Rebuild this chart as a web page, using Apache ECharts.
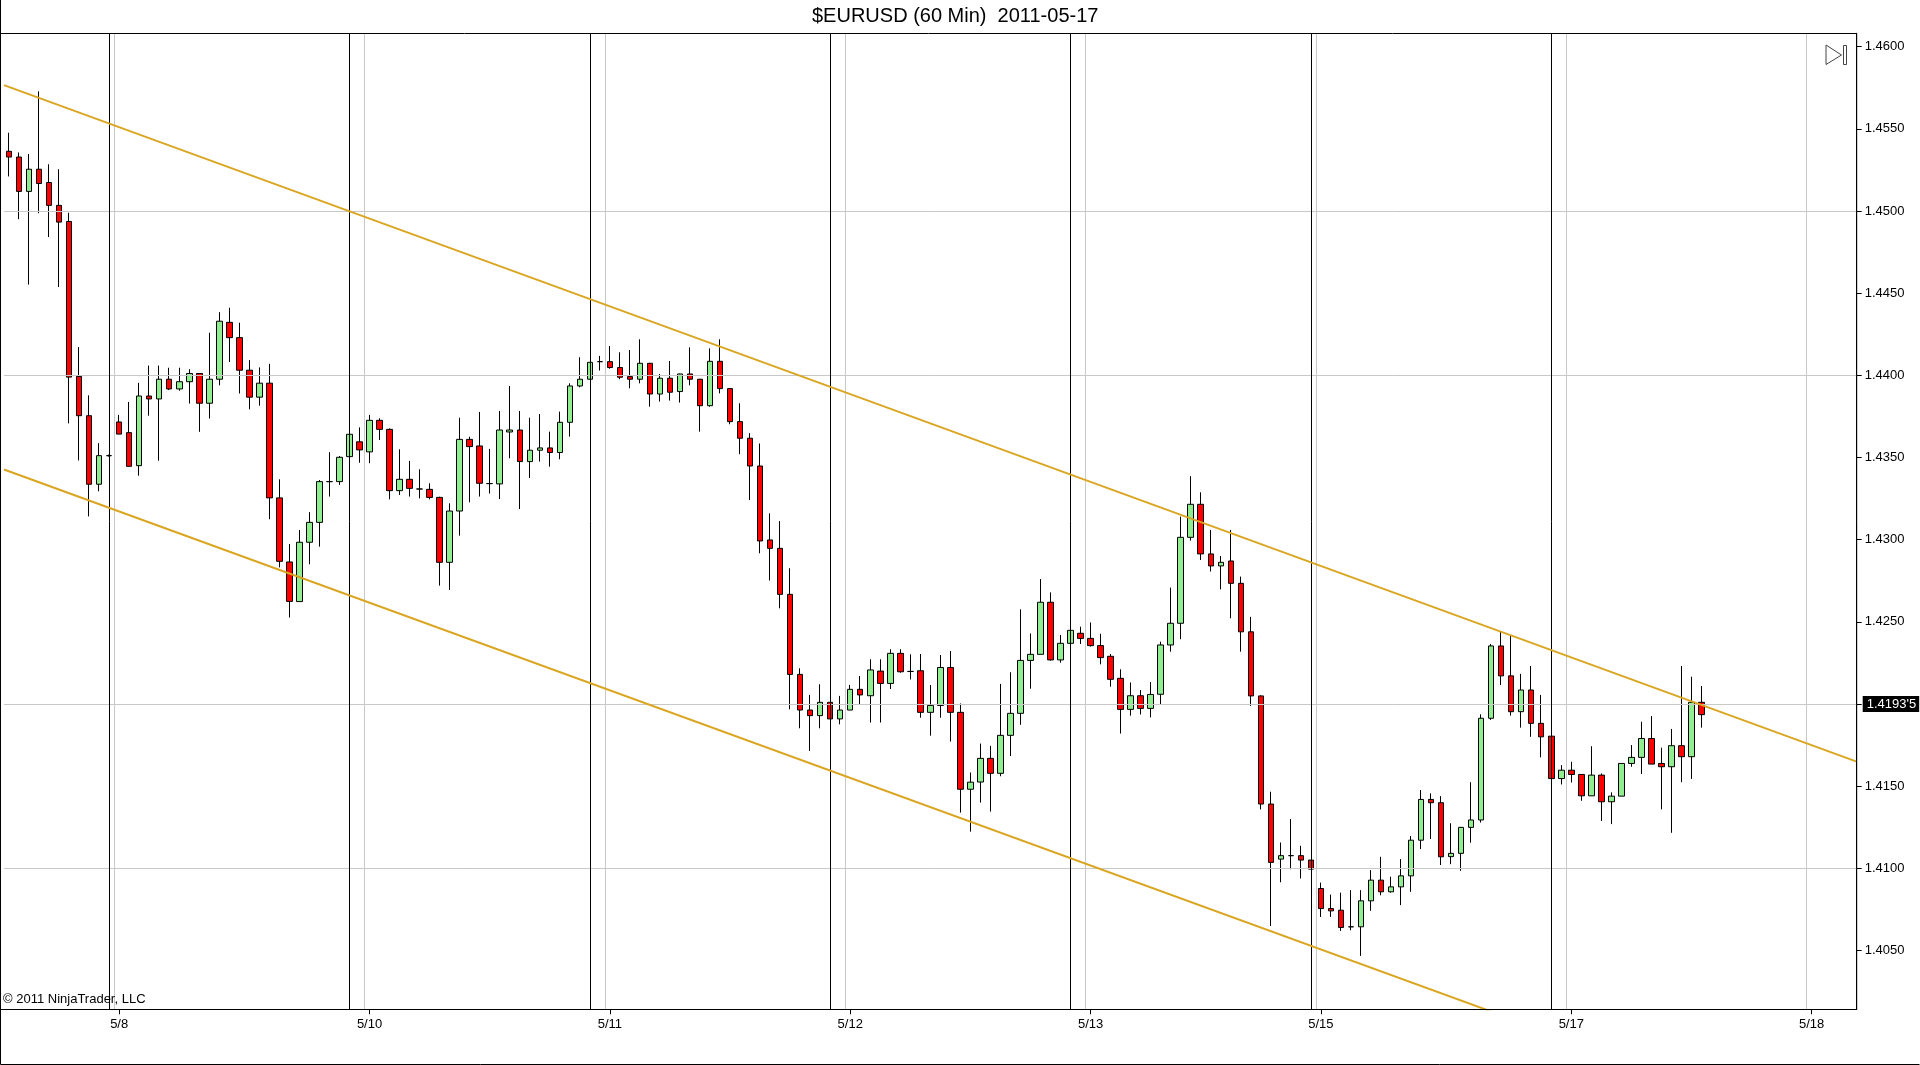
<!DOCTYPE html>
<html><head><meta charset="utf-8">
<script src="https://cdn.jsdelivr.net/npm/echarts@6/dist/echarts.min.js"></script>
<style>html,body{margin:0;padding:0;background:#fff}#c{width:1920px;height:1065px}</style>
</head><body><div id="c"></div>
<script>
// ---- data (hourly bars, $EURUSD 60 Min) ----
const opens = [
1.45363,1.45328,1.45119,1.45254,1.45173,1.45034,1.44936,1.43993,1.43754,1.43337,
1.43511,1.43716,1.43651,1.43450,1.43874,1.43856,1.43976,1.43917,1.43961,1.44011,
1.43830,1.43976,1.44322,1.44229,1.44031,1.43867,1.43952,1.43254,1.42864,1.42623,
1.42984,1.43105,1.43353,1.43353,1.43505,1.43595,1.43534,1.43726,1.43671,1.43298,
1.43367,1.43308,1.43306,1.43257,1.42862,1.43174,1.43610,1.43570,1.43341,1.43339,
1.43655,1.43667,1.43475,1.43544,1.43558,1.43530,1.43714,1.43935,1.43976,1.44083,
1.44083,1.44047,1.43992,1.43976,1.44073,1.43886,1.43982,1.43901,1.44008,1.43976,
1.43815,1.44085,1.43919,1.43718,1.43617,1.43448,1.42998,1.42947,1.42667,1.42180,
1.41963,1.41929,1.42010,1.41909,1.41963,1.42089,1.42050,1.42200,1.42125,1.42308,
1.42198,1.42202,1.41949,1.41991,1.42222,1.41949,1.41481,1.41525,1.41669,1.41578,
1.41809,1.41943,1.42265,1.42302,1.42619,1.42268,1.42369,1.42430,1.42399,1.42355,
1.42290,1.42156,1.41967,1.42050,1.41973,1.42059,1.42359,1.42491,1.43014,1.43215,
1.42913,1.42840,1.42870,1.42734,1.42439,1.42049,1.41391,1.41056,1.41077,1.41077,
1.41050,1.40877,1.40755,1.40745,1.40644,1.40644,1.40802,1.40928,1.40857,1.40887,
1.40954,1.41171,1.41419,1.41399,1.41071,1.41091,1.41249,1.41294,1.41913,1.42353,
1.42171,1.41953,1.42085,1.41882,1.41804,1.41546,1.41597,1.41571,1.41441,1.41567,
1.41405,1.41439,1.41638,1.41675,1.41790,1.41638,1.41618,1.41746,1.41679,1.42010];
const closes = [
1.45328,1.45119,1.45254,1.45167,1.45034,1.44932,1.43989,1.43754,1.43337,1.43511,
1.43511,1.43642,1.43446,1.43874,1.43856,1.43976,1.43917,1.43961,1.44011,1.43830,
1.43976,1.44329,1.44229,1.44031,1.43867,1.43952,1.43254,1.42868,1.42624,1.42984,
1.43105,1.43353,1.43353,1.43501,1.43641,1.43546,1.43726,1.43671,1.43298,1.43367,
1.43312,1.43308,1.43257,1.42862,1.43174,1.43610,1.43566,1.43343,1.43341,1.43667,
1.43667,1.43475,1.43544,1.43558,1.43530,1.43714,1.43935,1.43976,1.44079,1.44083,
1.44047,1.43988,1.43976,1.44073,1.43886,1.43982,1.43897,1.44008,1.43976,1.43815,
1.44085,1.43919,1.43718,1.43617,1.43448,1.42992,1.42947,1.42667,1.42180,1.41963,
1.41929,1.42010,1.41909,1.41963,1.42089,1.42055,1.42207,1.42125,1.42308,1.42196,
1.42198,1.41949,1.41991,1.42222,1.41949,1.41481,1.41524,1.41669,1.41578,1.41809,
1.41943,1.42265,1.42302,1.42619,1.42268,1.42369,1.42448,1.42399,1.42355,1.42282,
1.42150,1.41967,1.42050,1.41973,1.42058,1.42359,1.42491,1.43014,1.43215,1.42913,
1.42840,1.42862,1.42734,1.42439,1.42049,1.41391,1.41036,1.41077,1.41077,1.41050,
1.40995,1.40755,1.40741,1.40640,1.40644,1.40802,1.40928,1.40857,1.40887,1.40954,
1.41171,1.41419,1.41399,1.41070,1.41091,1.41249,1.41294,1.41913,1.42353,1.42171,
1.41953,1.42085,1.41882,1.41800,1.41546,1.41597,1.41571,1.41441,1.41567,1.41405,
1.41439,1.41638,1.41675,1.41790,1.41634,1.41618,1.41746,1.41679,1.42010,1.41935];
const lows = [
1.45210,1.44950,1.44552,1.44986,1.44841,1.44537,1.43707,1.43482,1.43141,1.43294,
1.43505,1.43642,1.43446,1.43389,1.43754,1.43480,1.43910,1.43906,1.43828,1.43656,
1.43737,1.43939,1.44081,1.43889,1.43793,1.43815,1.43124,1.42831,1.42526,1.42623,
1.42850,1.42957,1.43262,1.43333,1.43505,1.43468,1.43465,1.43606,1.43245,1.43272,
1.43262,1.43251,1.43245,1.42720,1.42694,1.43024,1.43227,1.43262,1.43280,1.43247,
1.43495,1.43186,1.43375,1.43475,1.43444,1.43489,1.43627,1.43927,1.43976,1.44029,
1.44040,1.43976,1.43921,1.43951,1.43809,1.43840,1.43846,1.43834,1.43939,1.43657,
1.43809,1.43890,1.43702,1.43520,1.43241,1.42917,1.42751,1.42582,1.41967,1.41852,
1.41714,1.41852,1.41909,1.41876,1.41963,1.41999,1.41887,1.41887,1.42091,1.42190,
1.42149,1.41916,1.41807,1.41916,1.41771,1.41339,1.41223,1.41400,1.41345,1.41560,
1.41683,1.41873,1.42093,1.42302,1.42264,1.42251,1.42369,1.42365,1.42349,1.42241,
1.42105,1.41820,1.41929,1.41936,1.41918,1.41998,1.42318,1.42394,1.42994,1.42876,
1.42806,1.42697,1.42521,1.42318,1.41988,1.41358,1.40649,1.40915,1.40994,1.40938,
1.40995,1.40704,1.40704,1.40619,1.40623,1.40467,1.40741,1.40836,1.40852,1.40776,
1.40857,1.41117,1.41178,1.41020,1.41025,1.40985,1.41156,1.41278,1.41903,1.42115,
1.41929,1.41856,1.41800,1.41675,1.41546,1.41510,1.41522,1.41411,1.41441,1.41288,
1.41269,1.41439,1.41618,1.41574,1.41634,1.41359,1.41216,1.41524,1.41544,1.41856];
const highs = [
1.45476,1.45356,1.45347,1.45728,1.45284,1.45254,1.44989,1.44172,1.43878,1.43587,
1.43517,1.43759,1.43838,1.43954,1.44059,1.44059,1.44046,1.44046,1.44037,1.44011,
1.44259,1.44384,1.44411,1.44320,1.44092,1.44048,1.44070,1.43367,1.42973,1.43059,
1.43167,1.43363,1.43532,1.43509,1.43641,1.43683,1.43759,1.43738,1.43677,1.43550,
1.43479,1.43428,1.43343,1.43261,1.43221,1.43742,1.43626,1.43777,1.43552,1.43783,
1.43935,1.43783,1.43742,1.43764,1.43657,1.43779,1.43951,1.44110,1.44079,1.44118,
1.44178,1.44140,1.44154,1.44219,1.44075,1.44008,1.44087,1.44010,1.44170,1.43978,
1.44164,1.44219,1.43921,1.43830,1.43648,1.43585,1.43160,1.43113,1.42826,1.42217,
1.42055,1.42120,1.42010,1.42049,1.42116,1.42170,1.42272,1.42272,1.42333,1.42333,
1.42302,1.42304,1.42115,1.42298,1.42322,1.42003,1.41583,1.41759,1.41745,1.42122,
1.42193,1.42576,1.42429,1.42760,1.42679,1.42420,1.42448,1.42470,1.42496,1.42427,
1.42304,1.42211,1.42131,1.42085,1.42133,1.42379,1.42708,1.43140,1.43386,1.43288,
1.43059,1.42900,1.43059,1.42775,1.42530,1.42052,1.41466,1.41157,1.41300,1.41137,
1.41050,1.40913,1.40840,1.40852,1.40867,1.40867,1.40989,1.41070,1.40949,1.41056,
1.41196,1.41476,1.41456,1.41439,1.41274,1.41252,1.41524,1.41937,1.42365,1.42440,
1.42414,1.42183,1.42231,1.42055,1.41804,1.41628,1.41648,1.41571,1.41743,1.41577,
1.41462,1.41638,1.41750,1.41892,1.41926,1.41734,1.41848,1.42231,1.42166,1.42109];

const slotCount = 185;                       // hourly slots on the x axis (incl. empty space on the right)
const sessionStarts = [10, 34, 58, 82, 106, 130, 154];
const dateTickIdx  = [11, 36, 60, 84, 108, 131, 156, 180];
const dateTickText = ['5/8','5/10','5/11','5/12','5/13','5/15','5/17','5/18'];
const priceTicks = [1.4050,1.4100,1.4150,1.4200,1.4250,1.4300,1.4350,1.4400,1.4450,1.4500,1.4550,1.4600];
const priceGrid  = [1.4050,1.4200,1.4350,1.4500];
const upperChannel = [1.45766, 1.41649];     // price at left / right plot edge
const lowerChannel = [1.43427, 1.39318];
const yMin = 1.40142, yMax = 1.46081;

// ---- build ----
const FONT = 'Liberation Sans, Arial, sans-serif';
const slots = Array.from({length: slotCount}, (_, i) => 'h' + i);
const candles = opens.map((o, i) => [o, closes[i], lows[i], highs[i]]);
const tickSet = new Set(dateTickIdx);
const tickFn = (i) => tickSet.has(i);
const lastClose = closes[closes.length - 1];
const fmtLast = (v) => { const s = v.toFixed(5); return s.slice(0, 6) + "'" + s.slice(6); };

const chart = echarts.init(document.getElementById('c'), null, {renderer: 'canvas'});
chart.setOption({
  animation: false,
  backgroundColor: '#fff',
  title: {
    text: '$EURUSD (60 Min)  2011-05-17',
    left: 812, top: 6, padding: 0,
    textStyle: {fontFamily: FONT, fontSize: 20, fontWeight: 'normal', color: '#000'}
  },
  grid: {left: 4, right: 63.3, top: 33.3, bottom: 55.7, containLabel: false},
  xAxis: [{
    type: 'category', data: slots, boundaryGap: true,
    axisLine: {show: true, onZero: false, lineStyle: {color: '#000', width: 1}},
    axisTick: {show: true, interval: tickFn, alignWithLabel: true, length: 5, lineStyle: {color: '#000'}},
    axisLabel: {interval: tickFn, margin: 9, color: '#000', fontFamily: FONT, fontSize: 13,
      formatter: (v, i) => { const j = dateTickIdx.indexOf(i); return j >= 0 ? dateTickText[j] : ''; }},
    splitLine: {show: true, interval: tickFn, lineStyle: {color: '#c8c8c8', width: 1}}
  }, {
    type: 'value', min: 0, max: 1, show: false,
    axisLine: {onZero: false}
  }],
  yAxis: {
    type: 'value', position: 'right', min: yMin, max: yMax,
    axisLine: {show: true, onZero: false, lineStyle: {color: '#000', width: 1}},
    axisTick: {show: true, inside: false, customValues: priceTicks, length: 5, lineStyle: {color: '#000'}},
    axisLabel: {customValues: priceTicks, margin: 8, color: '#000', fontFamily: FONT, fontSize: 13,
      formatter: (v) => v.toFixed(4)},
    splitLine: {show: false}
  },
  series: [
    { // horizontal grid lines (behind the bars)
      type: 'line', data: [], z: 1, silent: true,
      markLine: {silent: true, symbol: ['none', 'none'], animation: false,
        label: {show: false},
        lineStyle: {color: '#c8c8c8', width: 1, type: 'solid'},
        data: priceGrid.map(v => ({yAxis: v}))}
    },
    {
      type: 'candlestick', name: '$EURUSD', data: candles, z: 3,
      barWidth: 6,
      itemStyle: {color: '#90EE90', color0: '#FF0000', borderColor: '#000', borderColor0: '#000', borderWidth: 1}
    },
    { // last price marker on the price axis
      type: 'line', data: [], z: 12, silent: true,
      markLine: {silent: true, symbol: ['none', 'none'], animation: false,
        lineStyle: {color: 'rgba(0,0,0,0)', width: 0},
        label: {show: true, position: 'end', distance: 6, formatter: () => fmtLast(lastClose),
          backgroundColor: '#000', color: '#fff', fontFamily: FONT, fontSize: 13, padding: [2, 3, 1, 4]},
        data: [{yAxis: lastClose}]}
    },
    { // session break lines
      type: 'line', data: [], z: 4, silent: true,
      markLine: {silent: true, symbol: ['none', 'none'], animation: false,
        label: {show: false},
        lineStyle: {color: '#000', width: 1, type: 'solid'},
        data: sessionStarts.map(k => ({xAxis: slots[k]}))}
    },
    {
      type: 'line', xAxisIndex: 1, data: [[0, upperChannel[0]], [1, upperChannel[1]]],
      symbol: 'none', z: 5, clip: true, silent: true,
      lineStyle: {color: '#DAA520', width: 2}
    },
    {
      type: 'line', xAxisIndex: 1, data: [[0, lowerChannel[0]], [1, lowerChannel[1]]],
      symbol: 'none', z: 5, clip: true, silent: true,
      lineStyle: {color: '#DAA520', width: 2}
    }
  ],
  graphic: [
    {type: 'rect', silent: true, z: 10,
      shape: {x: 0.5, y: 33.5, width: 1856.2, height: 976},
      style: {fill: 'none', stroke: '#000', lineWidth: 1}},
    {type: 'polyline', silent: true, z: 10,
      shape: {points: [[0.5, 0], [0.5, 1064.5], [1919.5, 1064.5]]},
      style: {fill: 'none', stroke: '#000', lineWidth: 1}},
    {type: 'text', silent: true, z: 10, left: 3, top: 993,
      style: {text: '\u00A9 2011 NinjaTrader, LLC', fill: '#000', font: '13px ' + FONT}},
    {type: 'polygon', silent: true, z: 10,
      shape: {points: [[1826, 45], [1841.5, 55], [1826, 64.5]]},
      style: {fill: 'none', stroke: '#444', lineWidth: 1}},
    {type: 'rect', silent: true, z: 10,
      shape: {x: 1843.5, y: 45.5, width: 3, height: 19},
      style: {fill: 'none', stroke: '#444', lineWidth: 1}}
  ]
});
</script></body></html>
